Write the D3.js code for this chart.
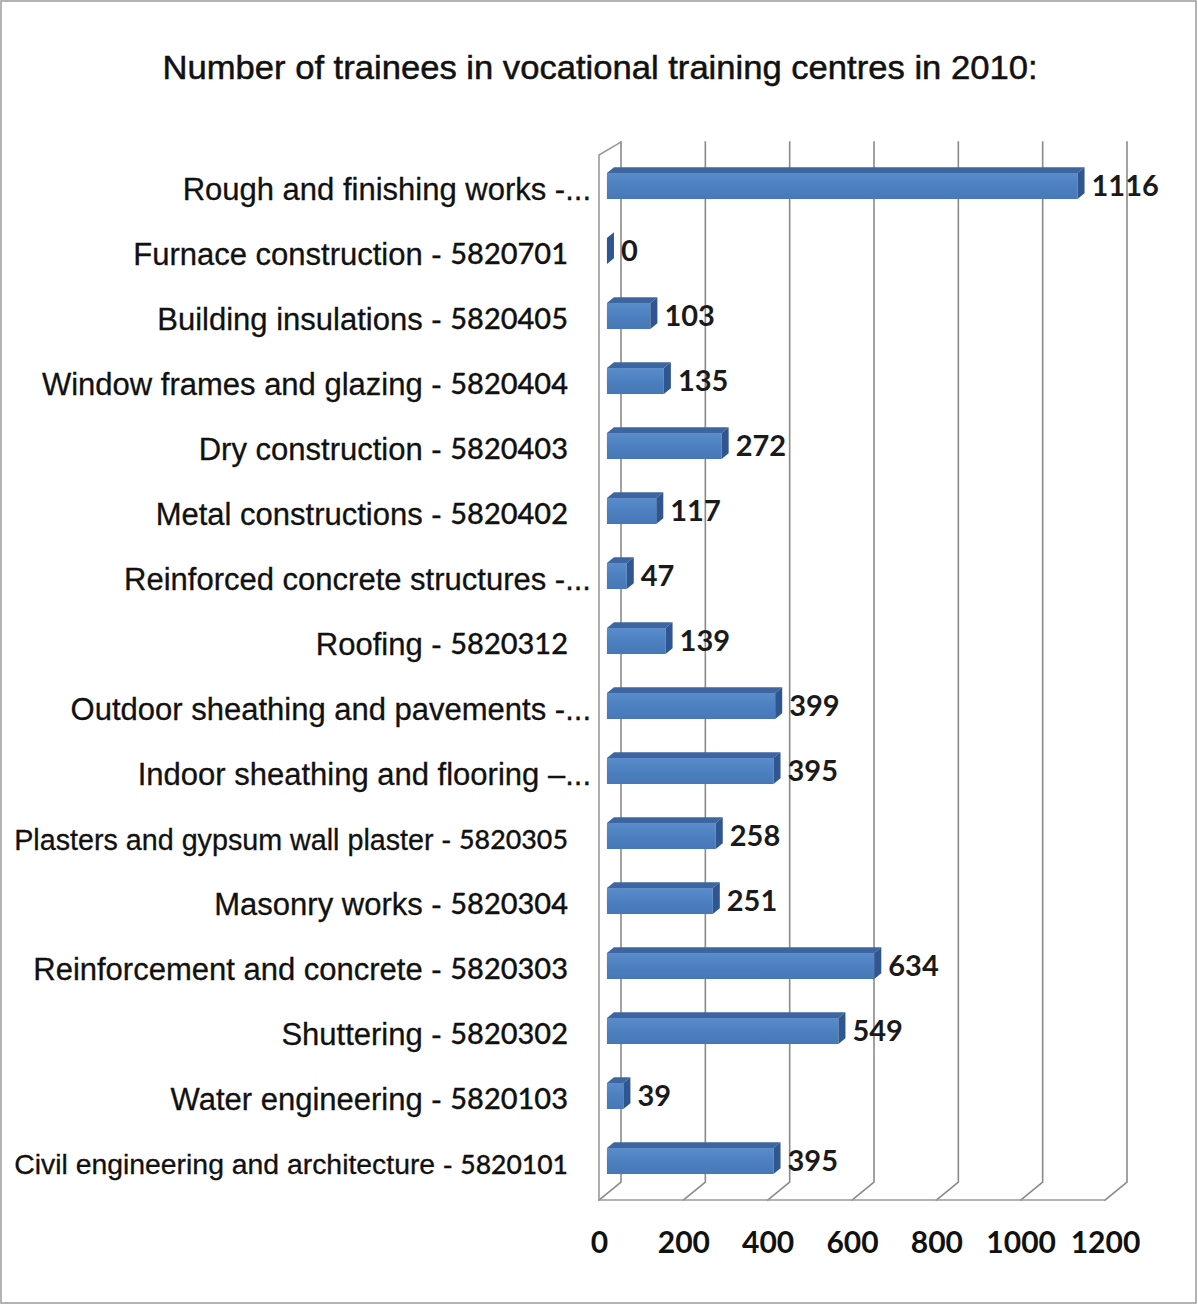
<!DOCTYPE html>
<html>
<head>
<meta charset="utf-8">
<script src="https://cdn.jsdelivr.net/npm/d3@7"></script>
<style>
  html, body { margin: 0; padding: 0; background: #fff; }
  svg { display: block; }
</style>
</head>
<body>
<svg id="chart" width="1198" height="1304"></svg>
<script>
// Trainee counts per vocational programme, top to bottom as listed
const categories = [
  "Rough and finishing works -...",
  "Furnace construction - 5820701",
  "Building insulations - 5820405",
  "Window frames and glazing - 5820404",
  "Dry construction - 5820403",
  "Metal constructions - 5820402",
  "Reinforced concrete structures -...",
  "Roofing - 5820312",
  "Outdoor sheathing and pavements -...",
  "Indoor sheathing and flooring –...",
  "Plasters and gypsum wall plaster - 5820305",
  "Masonry works - 5820304",
  "Reinforcement and concrete - 5820303",
  "Shuttering - 5820302",
  "Water engineering - 5820103",
  "Civil engineering and architecture - 5820101"
];
const values = [1116, 0, 103, 135, 272, 117, 47, 139, 399, 395, 258, 251, 634, 549, 39, 395];
const tickValues = [0, 200, 400, 600, 800, 1000, 1200];
const chartTitle = "Number of trainees in vocational training centres in 2010:";

const svg = d3.select("#chart");
const W = 1198, H = 1304;

// Outer frame
svg.append("rect").attr("x", 1).attr("y", 1).attr("width", W - 3).attr("height", H - 2)
  .attr("fill", "#fff").attr("stroke", "#9a9a9a").attr("stroke-width", 1.5);

// Title
svg.append("text").attr("x", 600).attr("y", 79).attr("text-anchor", "middle")
  .attr("font-family", "Liberation Sans, Arial, sans-serif").attr("font-size", 33)
  .attr("textLength", 875).attr("lengthAdjust", "spacingAndGlyphs")
  .attr("fill", "#111").attr("stroke", "#111").attr("stroke-width", 0.5)
  .text(chartTitle);

// Oblique 3D projection: depth 0 = front plane, depth 1 = back wall
const DX = 22, DY = 18;
const x = d3.scaleLinear().domain([0, 1200]).range([599, 1105]);
const y = d3.scaleBand().domain(categories).range([160, 1200]).paddingInner(0.6).paddingOuter(0.3);
const floorY = 1200, wallTop = 142;
const px = (v, d) => x(v) + d * DX;
const py = (yy, d) => yy - d * DY;

// Walls and gridlines
const grid = svg.append("g").attr("fill", "none").attr("stroke-linecap", "square");
// back-wall gridlines with their floor diagonals
tickValues.forEach(t => {
  grid.append("path")
    .attr("d", `M${px(t,1)},${wallTop} L${px(t,1)},${py(floorY,1)} L${px(t,0)},${floorY}`)
    .attr("stroke", "#8a8a8a").attr("stroke-width", 1.6);
});
// floor front edge
grid.append("line").attr("x1", x(0)).attr("x2", x(1200)).attr("y1", floorY).attr("y2", floorY)
  .attr("stroke", "#9a9a9a").attr("stroke-width", 1.6);
// side wall (front edge and top edge)
grid.append("path")
  .attr("d", `M${x(0)},${floorY} L${x(0)},${wallTop + 13} L${px(0,1)},${wallTop}`)
  .attr("stroke", "#9a9a9a").attr("stroke-width", 1.6);

// Bar shading
const defs = svg.append("defs");
const grad = defs.append("linearGradient").attr("id", "barFront")
  .attr("x1", 0).attr("y1", 0).attr("x2", 0).attr("y2", 1);
grad.append("stop").attr("offset", 0).attr("stop-color", "#5a8cca");
grad.append("stop").attr("offset", 0.5).attr("stop-color", "#4d80c0");
grad.append("stop").attr("offset", 1).attr("stop-color", "#4777b6");

const f0 = 0.36, f1 = 0.68; // bar front/back depth
const bars = svg.append("g").selectAll("g").data(categories).join("g");

bars.each(function (c, i) {
  const g = d3.select(this);
  const v = values[i];
  const yt = y(c), yb = y(c) + y.bandwidth();
  // top face
  g.append("path")
    .attr("d", `M${px(0,f0)},${py(yt,f0)} L${px(v,f0)},${py(yt,f0)} L${px(v,f1)},${py(yt,f1)} L${px(0,f1)},${py(yt,f1)} Z`)
    .attr("fill", "#3d66a0");
  // front face
  if (v > 0) {
    g.append("rect").attr("x", px(0,f0)).attr("y", py(yt,f0))
      .attr("width", px(v,f0) - px(0,f0)).attr("height", yb - yt)
      .attr("fill", "url(#barFront)");
  }
  // right side face
  g.append("path")
    .attr("d", `M${px(v,f0)},${py(yt,f0)} L${px(v,f1)},${py(yt,f1)} L${px(v,f1)},${py(yb,f1)} L${px(v,f0)},${py(yb,f0)} Z`)
    .attr("fill", "#2f5690");
});

// Value labels
svg.append("g").selectAll("text").data(categories).join("text")
  .attr("x", (c, i) => px(values[i], f1) + 7)
  .attr("y", c => py(y(c) + y.bandwidth() / 2, f0) + 3)
  .attr("dominant-baseline", "middle")
  .attr("font-family", "Lato, Carlito, sans-serif").attr("font-weight", 700)
  .attr("font-size", 29).attr("fill", "#1a1a1a")
  .text((c, i) => values[i]);

// Category labels: description in Arial-like face, programme code in a Calibri-like face
const labelMaxW = 554;
const txtSize = 31, codeSize = 29;
const catG = svg.append("g");
categories.forEach(c => {
  const truncated = c.endsWith("...");
  const t = catG.append("text")
    .attr("x", truncated ? 591 : 568)
    .attr("y", y(c) + y.bandwidth() / 2 - 1)
    .attr("text-anchor", "end").attr("dominant-baseline", "middle")
    .attr("font-family", "Liberation Sans, Arial, sans-serif")
    .attr("font-size", txtSize).attr("fill", "#111")
    .attr("stroke", "#111").attr("stroke-width", 0.3);
  const m = c.match(/^(.*- )(\d+)$/);
  if (m) {
    t.append("tspan").text(m[1]);
    t.append("tspan").attr("class", "code").attr("font-family", "Lato, Carlito, sans-serif")
      .attr("font-size", codeSize).attr("font-weight", 500).text(m[2]);
  } else {
    t.text(c);
  }
  const w = t.node().getComputedTextLength();
  if (w > labelMaxW) {
    const k = labelMaxW / w;
    t.attr("font-size", txtSize * k);
    t.selectAll("tspan.code").attr("font-size", codeSize * k);
  }
});

// Value axis along the front floor edge
const axis = d3.axisBottom(x).tickValues(tickValues).tickFormat(d3.format("d"))
  .tickSize(0).tickPadding(0);
const ax = svg.append("g").attr("transform", `translate(0,${floorY + 32})`).call(axis);
ax.select(".domain").remove();
ax.selectAll("text")
  .attr("font-family", "Lato, Carlito, sans-serif").attr("font-weight", 700)
  .attr("font-size", 30).attr("fill", "#111").attr("dy", "0.71em");
</script>
</body>
</html>
